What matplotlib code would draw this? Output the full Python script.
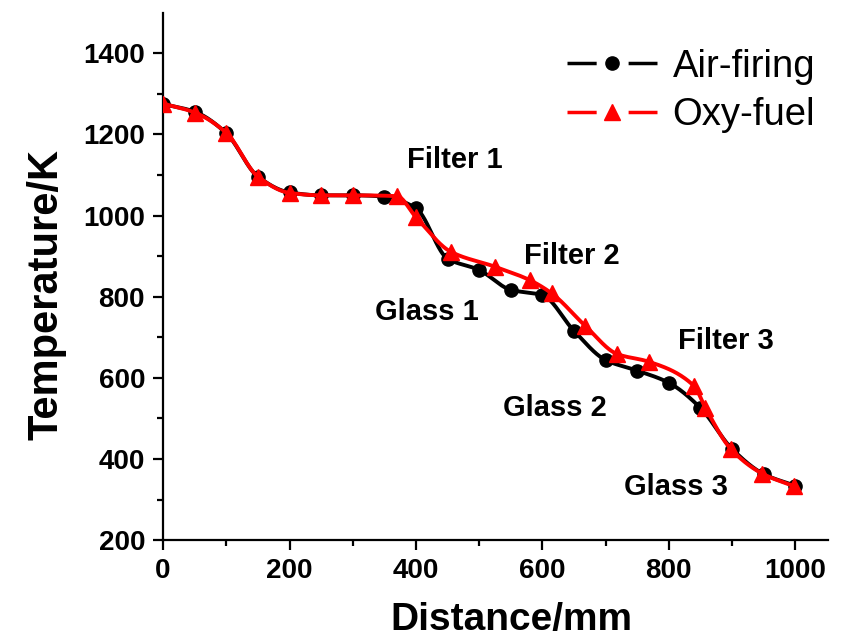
import numpy as np
import matplotlib
matplotlib.use("Agg")
import matplotlib.pyplot as plt
from matplotlib.lines import Line2D

plt.rcParams['font.family'] = ['Liberation Sans', 'DejaVu Sans']
plt.rcParams['lines.scale_dashes'] = False

# measured temperature profiles along the furnace
air_x = [0, 50, 100, 150, 200, 250, 300, 350, 400, 450, 500, 550, 600,
         650, 700, 750, 800, 850, 900, 950, 1000]
air_t = [1275, 1256, 1203, 1096, 1057, 1050, 1050, 1047, 1018, 894, 866, 817,
         804, 716, 644, 618, 588, 526, 425, 363, 334]

oxy_x = [0, 50, 100, 150, 200, 250, 300, 370, 400, 455, 525, 580, 615,
         668, 718, 768, 840, 858, 898, 948, 998]
oxy_t = [1276, 1254, 1204, 1096, 1056, 1050, 1050, 1048, 996, 911, 874, 841,
         808, 728, 659, 640, 580, 526, 425, 364, 333]

labels = ['Filter 1', 'Filter 2', 'Glass 1', 'Filter 3', 'Glass 2', 'Glass 3']
label_x = [462, 647, 418, 891, 620, 812]
label_y = [1138, 901, 762, 691, 525, 330]


def smooth(x, y, n=800):
    """Monotone (Fritsch-Carlson) cubic through the points, no overshoot."""
    x = np.asarray(x, float)
    y = np.asarray(y, float)
    h = np.diff(x)
    d = np.diff(y) / h
    m = np.zeros_like(y)
    m[0], m[-1] = d[0], d[-1]
    for i in range(1, len(x) - 1):
        if d[i - 1] * d[i] > 0:
            w1 = 2 * h[i] + h[i - 1]
            w2 = h[i] + 2 * h[i - 1]
            m[i] = (w1 + w2) / (w1 / d[i - 1] + w2 / d[i])
    xs = np.linspace(x[0], x[-1], n)
    k = np.clip(np.searchsorted(x, xs) - 1, 0, len(x) - 2)
    t = (xs - x[k]) / h[k]
    h00 = 2 * t**3 - 3 * t**2 + 1
    h10 = t**3 - 2 * t**2 + t
    h01 = -2 * t**3 + 3 * t**2
    h11 = t**3 - t**2
    ys = h00 * y[k] + h10 * h[k] * m[k] + h01 * y[k + 1] + h11 * h[k] * m[k + 1]
    return xs, ys


fig = plt.figure(figsize=(8.45, 6.37), dpi=100)
ax = fig.add_axes([0.193, 0.152, 0.787, 0.828])

sx, sy = smooth(air_x, air_t)
ax.plot(sx, sy, color='black', lw=2.8, zorder=2)
ax.plot(air_x, air_t, 'o', color='black', ms=9.5, zorder=3)

sx, sy = smooth(oxy_x, oxy_t)
ax.plot(sx, sy, color='#ff0000', lw=2.8, zorder=4)
ax.plot(oxy_x, oxy_t, '^', color='#ff0000', ms=11, zorder=5)

for txt, tx, ty in zip(labels, label_x, label_y):
    ax.text(tx, ty, txt, fontsize=21, fontweight='bold', ha='center', va='center')

ax.set_xlim(0, 1052)
ax.set_ylim(200, 1500)
ax.set_xticks([0, 200, 400, 600, 800, 1000])
ax.set_xticks(np.arange(100, 1001, 200), minor=True)
ax.set_yticks([200, 400, 600, 800, 1000, 1200, 1400])
ax.set_yticks(np.arange(300, 1500, 200), minor=True)

for side in ['top', 'right']:
    ax.spines[side].set_visible(False)
for side in ['left', 'bottom']:
    ax.spines[side].set_linewidth(1.6)
ax.tick_params(which='major', direction='out', length=7, width=1.6,
               labelsize=20, pad=6)
ax.tick_params(which='minor', direction='out', length=4, width=1.6)
for lab in ax.get_xticklabels() + ax.get_yticklabels():
    lab.set_fontweight('bold')

ax.set_xlabel('Distance/mm', fontsize=28, fontweight='bold')
ax.set_ylabel('Temperature/K', fontsize=30, fontweight='bold')
ax.xaxis.set_label_coords(0.523, -0.118)
ax.yaxis.set_label_coords(-0.145, 0.465)

# legend handles: segment - marker - segment
handles = [
    Line2D([], [], color='black', lw=2.5, ls=(0, (21, 23)), marker='o', ms=9.5),
    Line2D([], [], color='#ff0000', lw=2.5, ls=(0, (21, 23)), marker='^', ms=11),
]
ax.legend(handles, ['Air-firing', 'Oxy-fuel'], loc='upper right',
          bbox_to_anchor=(1.015, 0.975), frameon=False, prop={'size': 27.5},
          handlelength=2.35, handletextpad=0.4, labelspacing=0.33,
          borderaxespad=0.2)

fig.savefig('out.png', dpi=100)
